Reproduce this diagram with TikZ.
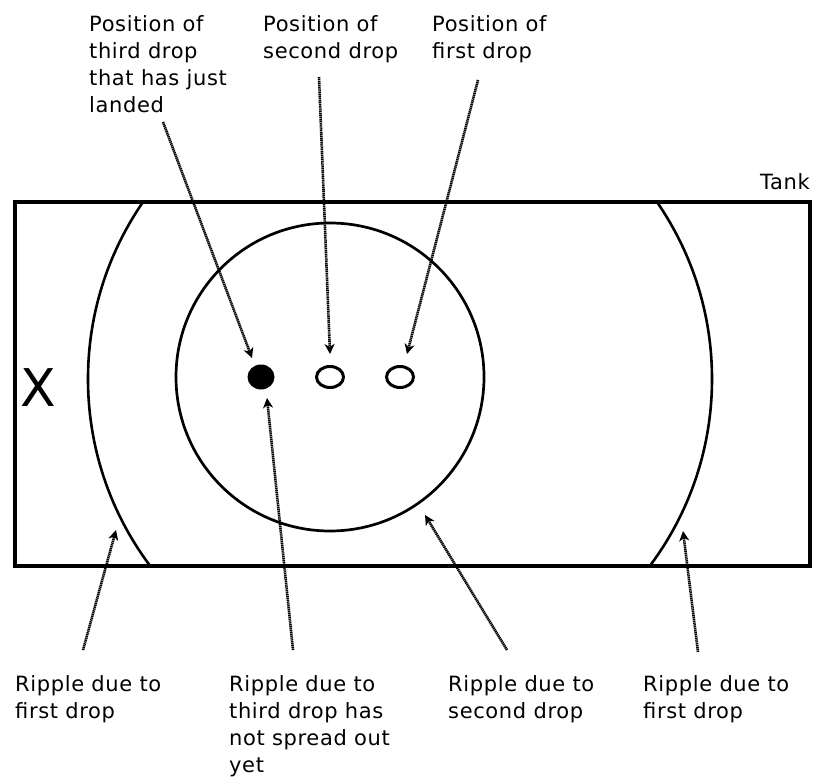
\documentclass[tikz,border=0pt]{standalone}
\usepackage{fontspec}
\setmainfont[LetterSpace=3]{DejaVu Sans}
\usetikzlibrary{arrows.meta,shapes.geometric}
\begin{document}
\begin{tikzpicture}[x=1pt,y=-1pt,
  lbl/.style={anchor=north west,inner sep=0pt,align=left,font=\fontsize{21}{27}\selectfont},
  ptr/.style={line width=2.6pt,dash pattern=on 1.3pt off 0.6pt,-{Stealth[length=10pt,width=10pt,inset=3pt]}},
  opendrop/.style={ellipse,draw,line width=3pt,minimum width=27pt,minimum height=21pt,inner sep=0pt},
  fulldrop/.style={ellipse,fill,minimum width=27pt,minimum height=25pt,inner sep=0pt}]
\useasboundingbox (0,0) rectangle (813,778);
% ripples
\begin{scope}
  \clip (15,202) rectangle (810,566);
  \draw[line width=2.6pt] (400,379) circle[radius=312pt];
\end{scope}
\draw[line width=2.7pt] (330,377) circle[radius=154pt];
\draw[line width=4pt] (15,202) rectangle (810,566);
% drops
\node[fulldrop] (d3) at (261,377) {};
\node[opendrop] (d2) at (330,377) {};
\node[opendrop] (d1) at (400,377) {};
% labels
\node[lbl] (lp3) at (89,15) {Position of\\third drop\\that has just\\landed};
\node[lbl] (lp2) at (263,15) {Position of\\second drop};
\node[lbl] (lp1) at (432,15) {Position of\\first drop};
\node[anchor=north east,inner sep=0pt,font=\fontsize{21}{27}\selectfont] (tank) at (810,173) {Tank};
\node[anchor=north west,inner sep=0pt,font=\fontsize{52}{52}\selectfont] (xmark) at (20,368) {X};
\node[lbl] (lr1a) at (15,675) {Ripple due to\\first drop};
\node[lbl] (lr3) at (229,675) {Ripple due to\\third drop has\\not spread out\\yet};
\node[lbl] (lr2) at (448,675) {Ripple due to\\second drop};
\node[lbl] (lr1b) at (643,675) {Ripple due to\\first drop};
% connector ends
\coordinate (a1s) at (163,122); \coordinate (a1e) at (252,358);
\coordinate (a2s) at (319,77);  \coordinate (a2e) at (330,354);
\coordinate (a3s) at (478,80);  \coordinate (a3e) at (407,354);
\coordinate (a4s) at (293,650); \coordinate (a4e) at (267,398);
\coordinate (a5s) at (83,650);  \coordinate (a5e) at (116,530);
\coordinate (a6s) at (507,650); \coordinate (a6e) at (425,515);
\coordinate (a7s) at (698,652); \coordinate (a7e) at (683,531);
\draw[ptr] (a1s) -- (a1e);
\draw[ptr] (a2s) -- (a2e);
\draw[ptr] (a3s) -- (a3e);
\draw[ptr] (a4s) -- (a4e);
\draw[ptr] (a5s) -- (a5e);
\draw[ptr] (a6s) -- (a6e);
\draw[ptr] (a7s) -- (a7e);
\end{tikzpicture}
\end{document}
